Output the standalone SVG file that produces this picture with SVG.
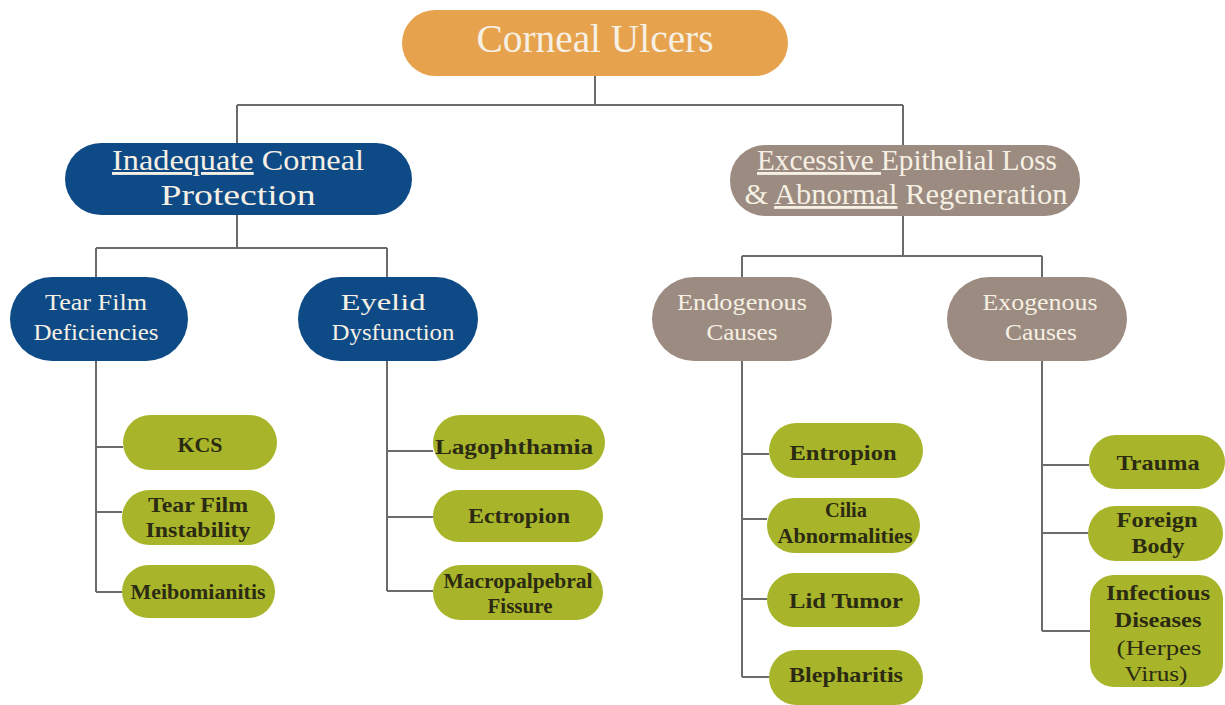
<svg xmlns="http://www.w3.org/2000/svg" width="1225" height="705" viewBox="0 0 1225 705">
<style>
.ln{fill:none;stroke:#6b6b6b;stroke-width:2}
.t{font-family:"Liberation Serif","Times New Roman",serif;text-anchor:middle}
.root{fill:#E7A24E}
.blue{fill:#0E4A86}
.taupe{fill:#9C8B80}
.leaf{fill:#A8B52A}
.tw{fill:#F6F0E4}
.tl{fill:#2B2A12;font-weight:bold;font-size:22px}
.u{text-decoration:underline}
</style>
<rect width="1225" height="705" fill="#ffffff"/>
<g id="connectors">
<path class="ln" d="M595,76V105M237,105H903M237,105V143M903,105V145"/>
<path class="ln" d="M237,215V248M96,248H387M96,248V277M387,248V277"/>
<path class="ln" d="M903,216V256M742,256H1042M742,256V277M1042,256V277"/>
<path class="ln" d="M96,361V592M96,447H123M96,512H122M96,592H122"/>
<path class="ln" d="M387,361V591M387,451H433M387,517H433M387,591H433"/>
<path class="ln" d="M742,361V677M742,454H769M742,519H767M742,599H767M742,677H769"/>
<path class="ln" d="M1042,361V631M1042,465H1089M1042,533H1088M1042,631H1090"/>
</g>
<g id="root">
<rect class="root" x="402" y="10" width="386" height="66" rx="33"/>
<text class="t tw" x="595" y="52" font-size="40" textLength="237" lengthAdjust="spacingAndGlyphs">Corneal Ulcers</text>
</g>
<g id="inadequate">
<rect class="blue" x="65" y="143" width="347" height="72" rx="36"/>
<text class="t tw" x="238" y="170" font-size="29" textLength="252" lengthAdjust="spacingAndGlyphs"><tspan class="u">Inadequate</tspan> Corneal</text>
<text class="t tw" x="238" y="205" font-size="29" textLength="155" lengthAdjust="spacingAndGlyphs">Protection</text>
</g>
<g id="excessive">
<rect class="taupe" x="730" y="145" width="350" height="71" rx="35"/>
<text class="t tw" x="907" y="170" font-size="29" textLength="300" lengthAdjust="spacingAndGlyphs"><tspan class="u">Excessive </tspan>Epithelial Loss</text>
<text class="t tw" x="906" y="204" font-size="29" textLength="323" lengthAdjust="spacingAndGlyphs">&amp; <tspan class="u">Abnormal</tspan> Regeneration</text>
</g>
<g id="tearfilm">
<rect class="blue" x="10" y="277" width="178" height="84" rx="42"/>
<text class="t tw" x="96" y="310" font-size="24" textLength="102" lengthAdjust="spacingAndGlyphs">Tear Film</text>
<text class="t tw" x="96" y="340" font-size="24" textLength="125" lengthAdjust="spacingAndGlyphs">Deficiencies</text>
</g>
<g id="eyelid">
<rect class="blue" x="298" y="277" width="180" height="84" rx="42"/>
<text class="t tw" x="383" y="310" font-size="24" textLength="85" lengthAdjust="spacingAndGlyphs">Eyelid</text>
<text class="t tw" x="393" y="340" font-size="24" textLength="123" lengthAdjust="spacingAndGlyphs">Dysfunction</text>
</g>
<g id="endogenous">
<rect class="taupe" x="652" y="277" width="180" height="84" rx="42"/>
<text class="t tw" x="742" y="310" font-size="24" textLength="130" lengthAdjust="spacingAndGlyphs">Endogenous</text>
<text class="t tw" x="742" y="340" font-size="24" textLength="71" lengthAdjust="spacingAndGlyphs">Causes</text>
</g>
<g id="exogenous">
<rect class="taupe" x="947" y="277" width="180" height="84" rx="42"/>
<text class="t tw" x="1040" y="310" font-size="24" textLength="115" lengthAdjust="spacingAndGlyphs">Exogenous</text>
<text class="t tw" x="1041" y="340" font-size="24" textLength="72" lengthAdjust="spacingAndGlyphs">Causes</text>
</g>
<g id="kcs">
<rect class="leaf" x="123" y="415" width="154" height="55" rx="27.5"/>
<text class="t tl" x="200" y="452" textLength="45" lengthAdjust="spacingAndGlyphs">KCS</text>
</g>
<g id="tearfilminstability">
<rect class="leaf" x="122" y="490" width="153" height="55" rx="27.5"/>
<text class="t tl" x="198" y="512" textLength="100" lengthAdjust="spacingAndGlyphs">Tear Film</text>
<text class="t tl" x="198" y="537" textLength="105" lengthAdjust="spacingAndGlyphs">Instability</text>
</g>
<g id="meibomianitis">
<rect class="leaf" x="122" y="565" width="153" height="53" rx="26.5"/>
<text class="t tl" x="198" y="599" textLength="135" lengthAdjust="spacingAndGlyphs">Meibomianitis</text>
</g>
<g id="lagophthamia">
<rect class="leaf" x="433" y="415" width="172" height="55" rx="27.5"/>
<text class="t tl" x="514" y="454" textLength="158" lengthAdjust="spacingAndGlyphs">Lagophthamia</text>
</g>
<g id="ectropion">
<rect class="leaf" x="433" y="490" width="170" height="52" rx="26"/>
<text class="t tl" x="519" y="523" textLength="102" lengthAdjust="spacingAndGlyphs">Ectropion</text>
</g>
<g id="macropalpebral">
<rect class="leaf" x="433" y="565" width="170" height="55" rx="27.5"/>
<text class="t tl" x="518" y="588" textLength="149" lengthAdjust="spacingAndGlyphs">Macropalpebral</text>
<text class="t tl" x="520" y="613" textLength="65" lengthAdjust="spacingAndGlyphs">Fissure</text>
</g>
<g id="entropion">
<rect class="leaf" x="769" y="423" width="154" height="55" rx="27.5"/>
<text class="t tl" x="843" y="460" textLength="107" lengthAdjust="spacingAndGlyphs">Entropion</text>
</g>
<g id="cilia">
<rect class="leaf" x="767" y="498" width="153" height="55" rx="27.5"/>
<text class="t tl" x="846" y="517" textLength="42" lengthAdjust="spacingAndGlyphs">Cilia</text>
<text class="t tl" x="845" y="543" textLength="135" lengthAdjust="spacingAndGlyphs">Abnormalities</text>
</g>
<g id="lidtumor">
<rect class="leaf" x="767" y="573" width="153" height="54" rx="27"/>
<text class="t tl" x="846" y="608" textLength="114" lengthAdjust="spacingAndGlyphs">Lid Tumor</text>
</g>
<g id="blepharitis">
<rect class="leaf" x="769" y="650" width="154" height="55" rx="27.5"/>
<text class="t tl" x="846" y="682" textLength="114" lengthAdjust="spacingAndGlyphs">Blepharitis</text>
</g>
<g id="trauma">
<rect class="leaf" x="1089" y="435" width="136" height="54" rx="27"/>
<text class="t tl" x="1158" y="470" textLength="83" lengthAdjust="spacingAndGlyphs">Trauma</text>
</g>
<g id="foreignbody">
<rect class="leaf" x="1088" y="506" width="135" height="55" rx="27.5"/>
<text class="t tl" x="1157" y="527" textLength="81" lengthAdjust="spacingAndGlyphs">Foreign</text>
<text class="t tl" x="1158" y="553" textLength="53" lengthAdjust="spacingAndGlyphs">Body</text>
</g>
<g id="infectious">
<rect class="leaf" x="1090" y="575" width="133" height="112" rx="24"/>
<text class="t tl" x="1158" y="600" textLength="104" lengthAdjust="spacingAndGlyphs">Infectious</text>
<text class="t tl" x="1158" y="627" textLength="87" lengthAdjust="spacingAndGlyphs">Diseases</text>
<text class="t" x="1159" y="655" font-size="22" fill="#2B2A12" textLength="85" lengthAdjust="spacingAndGlyphs">(Herpes</text>
<text class="t" x="1156" y="681" font-size="22" fill="#2B2A12" textLength="63" lengthAdjust="spacingAndGlyphs">Virus)</text>
</g>
</svg>
